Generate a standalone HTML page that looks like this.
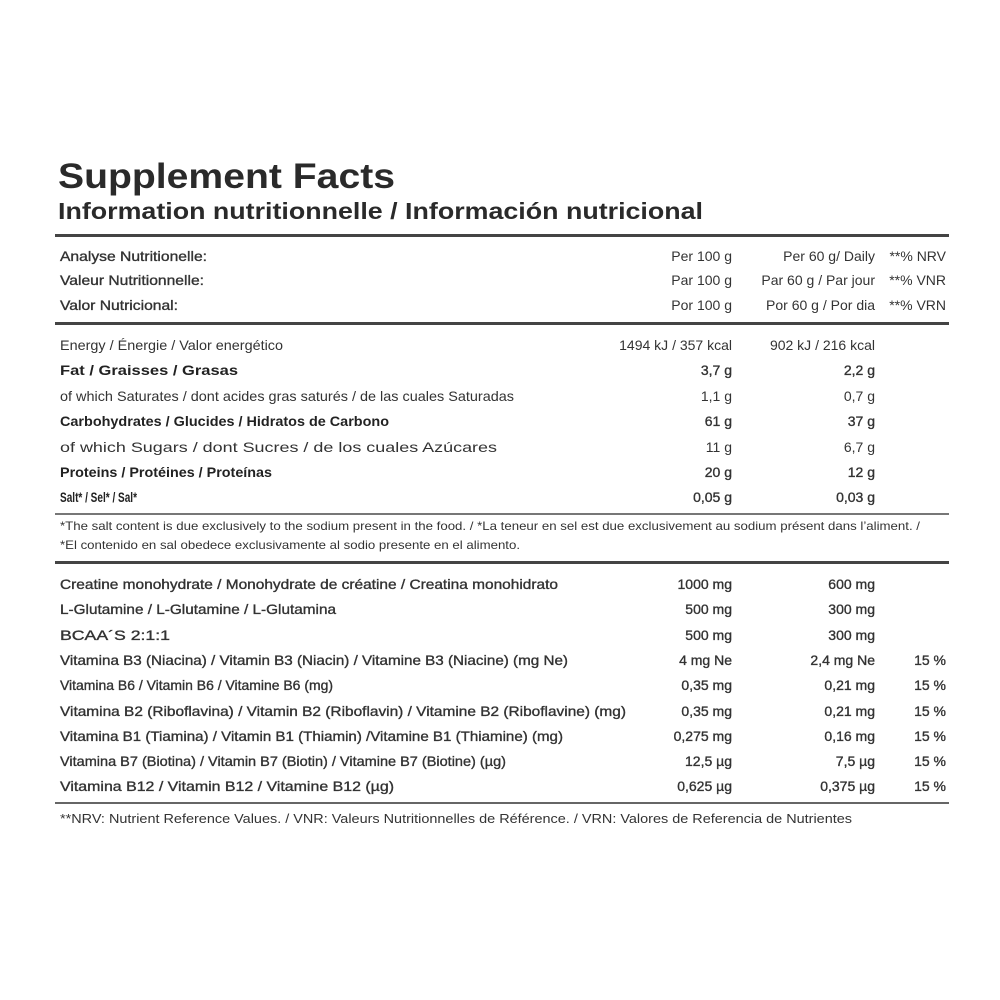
<!DOCTYPE html>
<html><head><meta charset="utf-8"><style>
html,body{margin:0;padding:0;background:#fff;width:1000px;height:1000px;overflow:hidden}
svg{display:block}
text{font-family:"Liberation Sans",sans-serif;fill:#333}
.t{font-size:14px}
.b{font-weight:bold;fill:#222}
.m{stroke:#333;stroke-width:0.35}
.n{text-anchor:end}
</style></head><body>
<svg width="1000" height="1000" viewBox="0 0 1000 1000">
<text x="58" y="188" font-size="35" font-weight="bold" style="fill:#2a2a2a" textLength="337" lengthAdjust="spacingAndGlyphs">Supplement Facts</text>
<text x="58" y="219" font-size="23" font-weight="bold" style="fill:#2a2a2a" textLength="645" lengthAdjust="spacingAndGlyphs">Information nutritionnelle /  Información nutricional</text>
<rect x="55" y="234" width="894" height="3" fill="#444"/>
<g class="t">
<text class="m" x="60" y="261" textLength="147" lengthAdjust="spacingAndGlyphs">Analyse Nutritionelle:</text>
<text class="m" x="60" y="285" textLength="144" lengthAdjust="spacingAndGlyphs">Valeur Nutritionnelle:</text>
<text class="m" x="60" y="310" textLength="118" lengthAdjust="spacingAndGlyphs">Valor Nutricional:</text>
<text class="n" x="732" y="261">Per 100 g</text><text class="n" x="732" y="285">Par 100 g</text><text class="n" x="732" y="310">Por 100 g</text>
<text class="n" x="875" y="261">Per 60 g/ Daily</text><text class="n" x="875" y="285">Par 60 g / Par jour</text><text class="n" x="875" y="310">Por 60 g / Por dia</text>
<text class="n" x="946" y="261">**% NRV</text><text class="n" x="946" y="285">**% VNR</text><text class="n" x="946" y="310">**% VRN</text>
</g>
<rect x="55" y="322" width="894" height="3" fill="#444"/>
<g class="t">
<text x="60" y="350" textLength="223" lengthAdjust="spacingAndGlyphs">Energy / Énergie / Valor energético</text>
<text class="b" x="60" y="375" textLength="178" lengthAdjust="spacingAndGlyphs">Fat / Graisses / Grasas</text>
<text x="60" y="401" textLength="454" lengthAdjust="spacingAndGlyphs">of which Saturates / dont acides gras saturés / de las cuales Saturadas</text>
<text class="b" x="60" y="426" textLength="329" lengthAdjust="spacingAndGlyphs">Carbohydrates / Glucides / Hidratos de Carbono</text>
<text x="60" y="452" textLength="437" lengthAdjust="spacingAndGlyphs">of which Sugars / dont Sucres / de los cuales Azúcares</text>
<text class="b" x="60" y="477" textLength="212" lengthAdjust="spacingAndGlyphs">Proteins / Protéines / Proteínas</text>
<text class="b" x="60" y="502" textLength="77" lengthAdjust="spacingAndGlyphs">Salt* / Sel* / Sal*</text>
<text class="n" x="732" y="350">1494 kJ / 357 kcal</text>
<text class="n m" x="732" y="375">3,7 g</text><text class="n" x="732" y="401">1,1 g</text><text class="n m" x="732" y="426">61 g</text>
<text class="n" x="732" y="452">11 g</text><text class="n m" x="732" y="477">20 g</text><text class="n m" x="732" y="502">0,05 g</text>
<text class="n" x="875" y="350">902 kJ / 216 kcal</text>
<text class="n m" x="875" y="375">2,2 g</text><text class="n" x="875" y="401">0,7 g</text><text class="n m" x="875" y="426">37 g</text>
<text class="n" x="875" y="452">6,7 g</text><text class="n m" x="875" y="477">12 g</text><text class="n m" x="875" y="502">0,03 g</text>
</g>
<rect x="55" y="513" width="894" height="2" fill="#777"/>
<g font-size="12">
<text x="60" y="530" textLength="860" lengthAdjust="spacingAndGlyphs">*The salt content is due exclusively to the sodium present in the food. / *La teneur en sel est due exclusivement au sodium présent dans l’aliment. /</text>
<text x="60" y="549" textLength="460" lengthAdjust="spacingAndGlyphs">*El contenido en sal obedece exclusivamente al sodio presente en el alimento.</text>
</g>
<rect x="55" y="561" width="894" height="3" fill="#444"/>
<g class="t">
<text class="m" x="60" y="589" textLength="498" lengthAdjust="spacingAndGlyphs">Creatine monohydrate / Monohydrate de créatine / Creatina monohidrato</text>
<text class="m" x="60" y="614" textLength="276" lengthAdjust="spacingAndGlyphs">L-Glutamine / L-Glutamine / L-Glutamina</text>
<text class="m" x="60" y="640" textLength="110" lengthAdjust="spacingAndGlyphs">BCAA´S 2:1:1</text>
<text class="m" x="60" y="665" textLength="508" lengthAdjust="spacingAndGlyphs">Vitamina B3 (Niacina) / Vitamin B3 (Niacin) / Vitamine B3 (Niacine) (mg Ne)</text>
<text class="m" x="60" y="690" textLength="273" lengthAdjust="spacingAndGlyphs">Vitamina B6 / Vitamin B6 / Vitamine B6 (mg)</text>
<text class="m" x="60" y="716" textLength="566" lengthAdjust="spacingAndGlyphs">Vitamina B2 (Riboflavina) / Vitamin B2 (Riboflavin) / Vitamine B2 (Riboflavine) (mg)</text>
<text class="m" x="60" y="741" textLength="503" lengthAdjust="spacingAndGlyphs">Vitamina B1 (Tiamina) / Vitamin B1 (Thiamin) /Vitamine B1 (Thiamine) (mg)</text>
<text class="m" x="60" y="766" textLength="446" lengthAdjust="spacingAndGlyphs">Vitamina B7 (Biotina) / Vitamin B7 (Biotin) / Vitamine B7 (Biotine) (µg)</text>
<text class="m" x="60" y="791" textLength="334" lengthAdjust="spacingAndGlyphs">Vitamina B12 / Vitamin B12 / Vitamine B12 (µg)</text>
<g class="m">
<text class="n" x="732" y="589">1000 mg</text><text class="n" x="732" y="614">500 mg</text><text class="n" x="732" y="640">500 mg</text>
<text class="n" x="732" y="665">4 mg Ne</text><text class="n" x="732" y="690">0,35 mg</text><text class="n" x="732" y="716">0,35 mg</text>
<text class="n" x="732" y="741">0,275 mg</text><text class="n" x="732" y="766">12,5 µg</text><text class="n" x="732" y="791">0,625 µg</text>
<text class="n" x="875" y="589">600 mg</text><text class="n" x="875" y="614">300 mg</text><text class="n" x="875" y="640">300 mg</text>
<text class="n" x="875" y="665">2,4 mg Ne</text><text class="n" x="875" y="690">0,21 mg</text><text class="n" x="875" y="716">0,21 mg</text>
<text class="n" x="875" y="741">0,16 mg</text><text class="n" x="875" y="766">7,5 µg</text><text class="n" x="875" y="791">0,375 µg</text>
<text class="n" x="946" y="665">15 %</text><text class="n" x="946" y="690">15 %</text><text class="n" x="946" y="716">15 %</text>
<text class="n" x="946" y="741">15 %</text><text class="n" x="946" y="766">15 %</text><text class="n" x="946" y="791">15 %</text>
</g>
</g>
<rect x="55" y="802" width="894" height="2" fill="#666"/>
<text x="60" y="823" font-size="13" textLength="792" lengthAdjust="spacingAndGlyphs">**NRV: Nutrient Reference Values. / VNR: Valeurs Nutritionnelles de Référence. / VRN: Valores de Referencia de Nutrientes</text>
</svg>
</body></html>
